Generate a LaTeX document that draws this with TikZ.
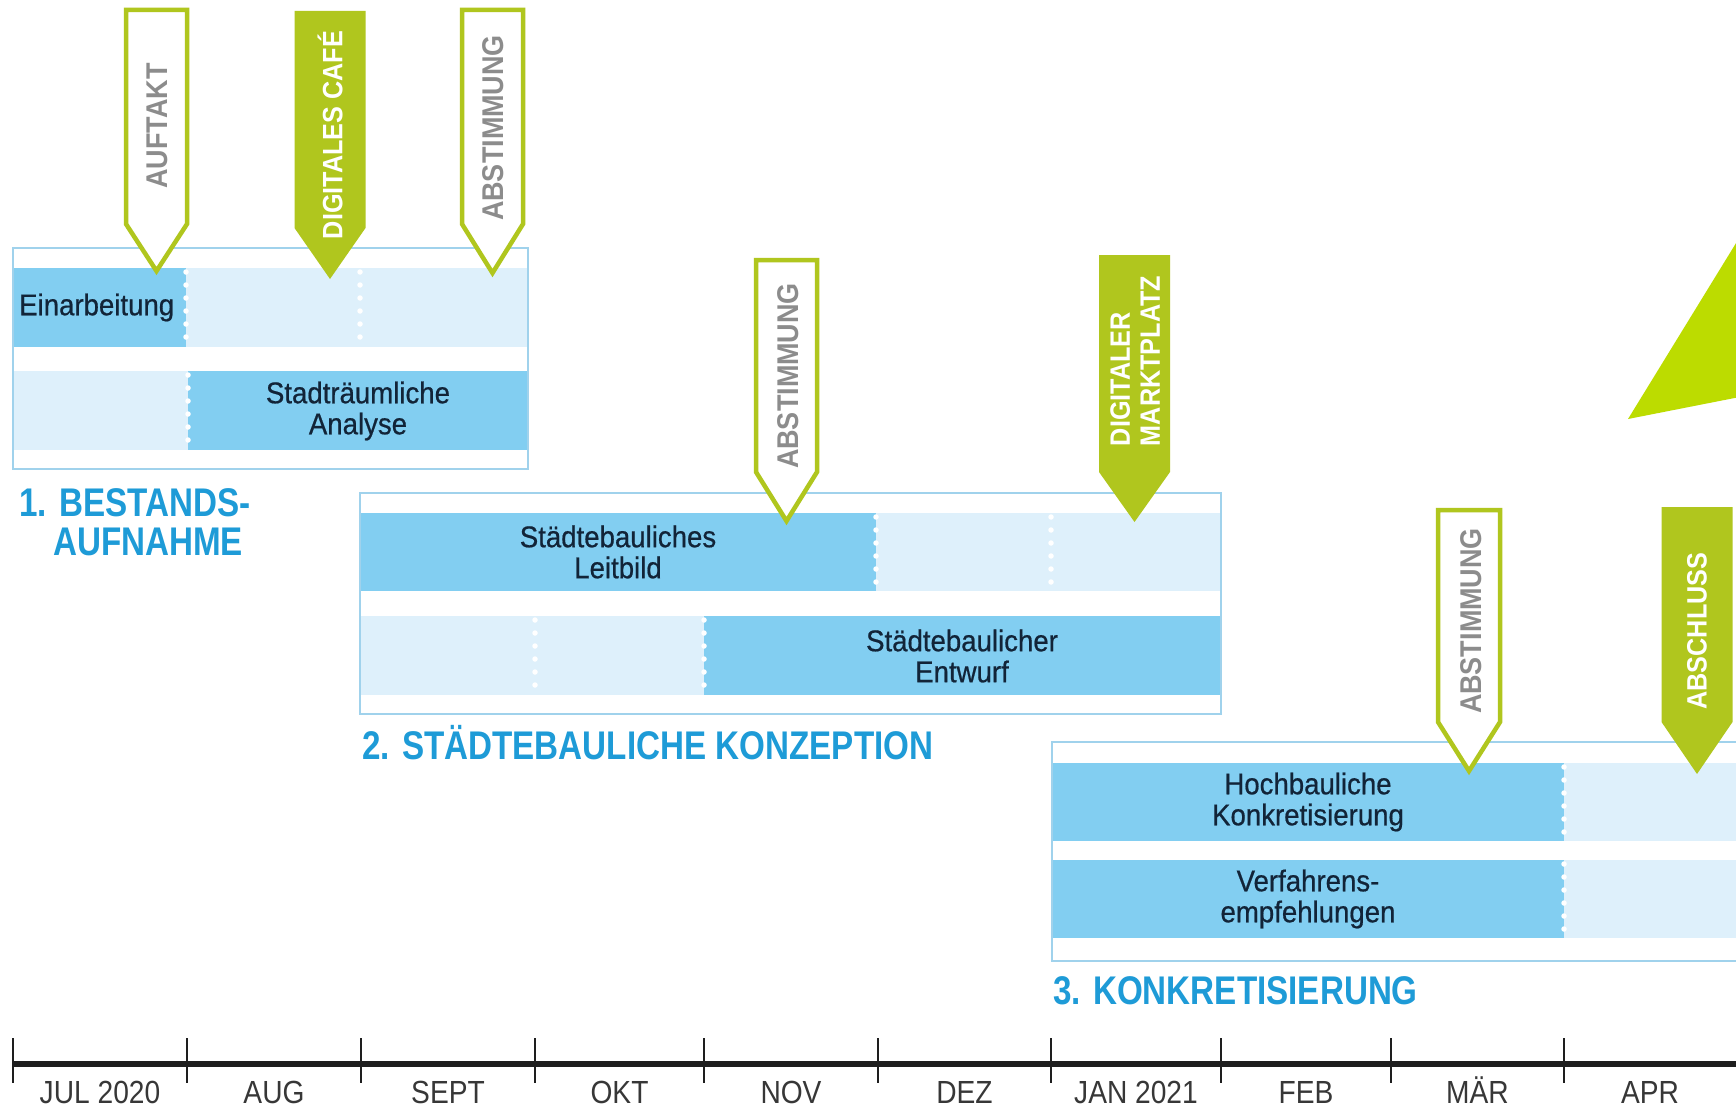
\documentclass[tikz,border=0pt]{standalone}
\usepackage{fontspec}
\setmainfont{Liberation Sans}
\newfontfamily\barfont{Liberation Sans}[FakeStretch=0.92,FakeBold=0.6]
\newfontfamily\ttlfont{Liberation Sans}[FakeStretch=0.83]
\newfontfamily\penfont{Liberation Sans}[FakeStretch=0.9]
\newfontfamily\monfont{Liberation Sans}[FakeStretch=0.88]
\definecolor{pengreen}{RGB}{176,198,30}
\definecolor{limegreen}{RGB}{188,220,0}
\definecolor{pengrey}{RGB}{140,140,140}
\definecolor{ttlblue}{RGB}{30,155,215}
\definecolor{bardark}{RGB}{130,206,241}
\definecolor{barlight}{RGB}{222,240,251}
\definecolor{boxblue}{RGB}{160,210,236}
\definecolor{navytext}{RGB}{18,36,56}
\definecolor{tlblack}{RGB}{30,30,30}
\definecolor{montext}{RGB}{55,55,55}
\tikzset{
  boxline/.style={draw=boxblue, line width=2pt},
  darkbar/.style={fill=bardark},
  lightbar/.style={fill=barlight},
  perf/.style={draw=white, line width=5.5pt, dash pattern=on 0pt off 13pt, line cap=round},
  bartext/.style={font=\barfont\fontsize{30}{31}\selectfont, text=navytext, align=center, inner sep=0pt},
  penout/.style={draw=pengreen, fill=white, line width=4.5pt, line join=miter},
  penfill/.style={fill=pengreen},
  pentxtgrey/.style={font=\penfont\bfseries\fontsize{30}{30}\selectfont, text=pengrey, inner sep=0pt, rotate=90},
  pentxtwhite/.style={font=\penfont\bfseries\fontsize{28}{30}\selectfont, text=white, inner sep=0pt, rotate=90, align=left},
  ttl/.style={font=\ttlfont\bfseries\fontsize{40}{42}\selectfont, text=ttlblue, inner sep=0pt},
  mon/.style={font=\monfont\fontsize{32}{34}\selectfont, text=montext, inner sep=0pt},
  tline/.style={draw=tlblack, line width=6pt},
  ticks/.style={draw=tlblack, line width=2.2pt},
}
\newcommand{\penO}[5]{\draw[penout] ({#1-#2/2},#3) -- ({#1+#2/2},#3) -- ({#1+#2/2},#4) -- (#1,#5) -- ({#1-#2/2},#4) -- cycle;}
\newcommand{\penF}[5]{\fill[penfill] ({#1-#2/2},#3) -- ({#1+#2/2},#3) -- ({#1+#2/2},#4) -- (#1,#5) -- ({#1-#2/2},#4) -- cycle;}
\begin{document}
\begin{tikzpicture}[x=1pt,y=-1pt]
\useasboundingbox (0,0) rectangle (1736,1110);
\begin{scope}
\clip (0,0) rectangle (1736,1110);
\fill[white] (0,0) rectangle (1736,1110);

% lime triangle
\fill[limegreen] (1628,419) -- (1760,204) -- (1760,393) -- cycle;

% ---------- box 1 ----------
\fill[white] (13,248) rectangle (528,469);
\fill[darkbar] (13,268) rectangle (186,347);
\fill[lightbar] (186,268) rectangle (528,347);
\fill[lightbar] (13,371) rectangle (188,450);
\fill[darkbar] (188,371) rectangle (528,450);
\draw[perf] (186,272) -- (186,347);
\draw[perf] (360,272) -- (360,347);
\draw[perf] (188,375) -- (188,450);
\draw[boxline] (13,248) rectangle (528,469);

% ---------- box 2 ----------
\fill[white] (360,493) rectangle (1221,714);
\fill[darkbar] (360,513) rectangle (876,591);
\fill[lightbar] (876,513) rectangle (1221,591);
\fill[lightbar] (360,616) rectangle (704,695);
\fill[darkbar] (704,616) rectangle (1221,695);
\draw[perf] (876,517) -- (876,591);
\draw[perf] (1051,517) -- (1051,591);
\draw[perf] (535,620) -- (535,695);
\draw[perf] (704,620) -- (704,695);
\draw[boxline] (360,493) rectangle (1221,714);

% ---------- box 3 ----------
\fill[white] (1052,742) rectangle (1760,961);
\fill[darkbar] (1052,763) rectangle (1564,841);
\fill[lightbar] (1564,763) rectangle (1760,841);
\fill[darkbar] (1052,860) rectangle (1564,938);
\fill[lightbar] (1564,860) rectangle (1760,938);
\draw[perf] (1564,767) -- (1564,841);
\draw[perf] (1564,864) -- (1564,938);
\draw[boxline] (1052,742) rectangle (1760,961);

% bar texts
\node[bartext, anchor=west] (tEin) at (19,307.5) {Einarbeitung};
\node[bartext] (tAna) at (358,411) {Stadträumliche\\Analyse};
\node[bartext] (tLeit) at (618,552) {Städtebauliches\\Leitbild};
\node[bartext] (tEnt) at (962,656) {Städtebaulicher\\Entwurf};
\node[bartext] (tHoch) at (1308,802) {Hochbauliche\\Konkretisierung};
\node[bartext] (tVerf) at (1308,899) {Verfahrens-\\empfehlungen};

% pennants
\penO{156.5}{61}{10}{224}{271}
\penF{330}{71}{11}{228}{279}
\penO{492.5}{61}{10}{224}{273}
\penO{786.5}{61}{260}{472}{521}
\penF{1134.5}{71}{255}{472}{522}
\penO{1469}{62}{510}{722}{771}
\penF{1697}{71}{507}{722}{774}
\node[pentxtgrey] (pAuf) at (157.5,126) {AUFTAKT};
\node[pentxtwhite] (pCafe) at (330,135) {DIGITALES CAFÉ};
\node[pentxtgrey] (pAb1) at (493,128) {ABSTIMMUNG};
\node[pentxtgrey] (pAb2) at (788,376) {ABSTIMMUNG};
\node[pentxtwhite] (pMarkt) at (1135,361) {DIGITALER\\MARKTPLATZ};
\node[pentxtgrey] (pAb3) at (1471,621) {ABSTIMMUNG};
\node[pentxtwhite] (pAbs) at (1697,631) {ABSCHLUSS};

% phase titles
\node[ttl, anchor=base west] (ph1a) at (19,516) {1. BESTANDS-};
\node[ttl, anchor=base west] (ph1b) at (53,555) {AUFNAHME};
\node[ttl, anchor=base west] (ph2) at (362,759) {2. STÄDTEBAULICHE KONZEPTION};
\node[ttl, anchor=base west] (ph3) at (1053,1004) {3. KONKRETISIERUNG};

% timeline
\draw[tline] (13,1064) -- (1740,1064);
\foreach \tx in {13,187,361,535,704,878,1051,1221,1391,1564}
  \draw[ticks] (\tx,1038) -- (\tx,1083);
\node[mon, anchor=base] (m1) at (100,1103) {JUL 2020};
\node[mon, anchor=base] (m2) at (274,1103) {AUG};
\node[mon, anchor=base] (m3) at (448,1103) {SEPT};
\node[mon, anchor=base] (m4) at (619.5,1103) {OKT};
\node[mon, anchor=base] (m5) at (791,1103) {NOV};
\node[mon, anchor=base] (m6) at (964.5,1103) {DEZ};
\node[mon, anchor=base] (m7) at (1136,1103) {JAN 2021};
\node[mon, anchor=base] (m8) at (1306,1103) {FEB};
\node[mon, anchor=base] (m9) at (1477.5,1103) {MÄR};
\node[mon, anchor=base] (m10) at (1650,1103) {APR};
\end{scope}
\end{tikzpicture}
\end{document}
